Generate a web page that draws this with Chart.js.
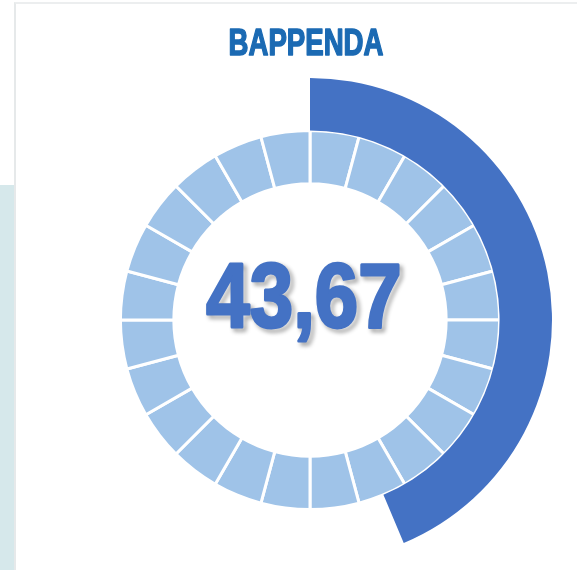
<!DOCTYPE html>
<html>
<head>
<meta charset="utf-8">
<script src="https://cdn.jsdelivr.net/npm/chart.js@4.4.1"></script>
<style>
  html, body { margin: 0; padding: 0; background: #ffffff; }
  #wrap { position: relative; width: 577px; height: 570px; overflow: hidden; }
  #side { position: absolute; left: 0; top: 185px; width: 14px; height: 385px; background: #d6e8eb; }
  #card { position: absolute; left: 14px; top: 2px; width: 570px; height: 580px;
          border-left: 2px solid #e6e9ea; border-top: 2px solid #eceeef; background: #fff; }
  #gauge { position: absolute; left: 0; top: 0; }
</style>
</head>
<body>
<div id="wrap">
  <div id="side"></div>
  <div id="card"></div>
  <canvas id="gauge" width="577" height="570"></canvas>
</div>
<script>
  var TITLE = 'BAPPENDA';
  var VALUE = 43.67;          // percent reached
  var VALUE_LABEL = '43,67';
  var SEGMENTS = 24;          // tick blocks on the inner ring

  var progressValues = [VALUE, 100 - VALUE];
  var segmentValues = [];
  for (var i = 0; i < SEGMENTS; i++) segmentValues.push(1);

  // draws the title and the big number on top of the rings
  var labelsPlugin = {
    id: 'labels',
    afterDraw: function (chart) {
      var ctx = chart.ctx;

      function squeezed(text, font, color, cx, baseline, width, stroke, shadow) {
        ctx.save();
        ctx.font = font;
        var w = ctx.measureText(text).width + stroke;
        var sx = width / w;
        ctx.translate(cx, baseline);
        ctx.scale(sx, 1);
        ctx.textAlign = 'center';
        ctx.textBaseline = 'alphabetic';
        if (shadow) {
          ctx.shadowColor = 'rgba(0,0,0,0.45)';
          ctx.shadowOffsetX = 3;
          ctx.shadowOffsetY = 3;
          ctx.shadowBlur = 4;
        }
        ctx.fillStyle = color;
        ctx.strokeStyle = color;
        ctx.lineJoin = 'round';
        ctx.lineWidth = stroke;
        ctx.strokeText(text, 0, 0);
        ctx.shadowColor = 'rgba(0,0,0,0)';
        ctx.fillText(text, 0, 0);
        ctx.restore();
      }

      squeezed(TITLE, 'bold 36px "Liberation Sans", Arial, sans-serif', '#1b6ab3', 306, 55, 156, 1.5, false);
      squeezed(VALUE_LABEL, 'bold 90px "Liberation Sans", Arial, sans-serif', '#4472c4', 304, 327, 198, 3, true);
    }
  };

  new Chart(document.getElementById('gauge').getContext('2d'), {
    type: 'doughnut',
    data: {
      labels: ['Capaian', 'Sisa'],
      datasets: [{
        data: progressValues,
        backgroundColor: ['#4472c4', 'rgba(0,0,0,0)'],
        borderWidth: 0,
        weight: 52
      }, {
        data: segmentValues,
        backgroundColor: '#9fc3e8',
        borderColor: '#ffffff',
        borderWidth: 3,
        weight: 53
      }]
    },
    options: {
      responsive: false,
      animation: false,
      events: [],
      radius: 242,
      cutout: 137,
      layout: { padding: { left: 66.5, right: 23.5, top: 76.5, bottom: 6.5 } },
      plugins: {
        legend: { display: false },
        tooltip: { enabled: false },
        title: { display: false }
      }
    },
    plugins: [labelsPlugin]
  });
</script>
</body>
</html>
